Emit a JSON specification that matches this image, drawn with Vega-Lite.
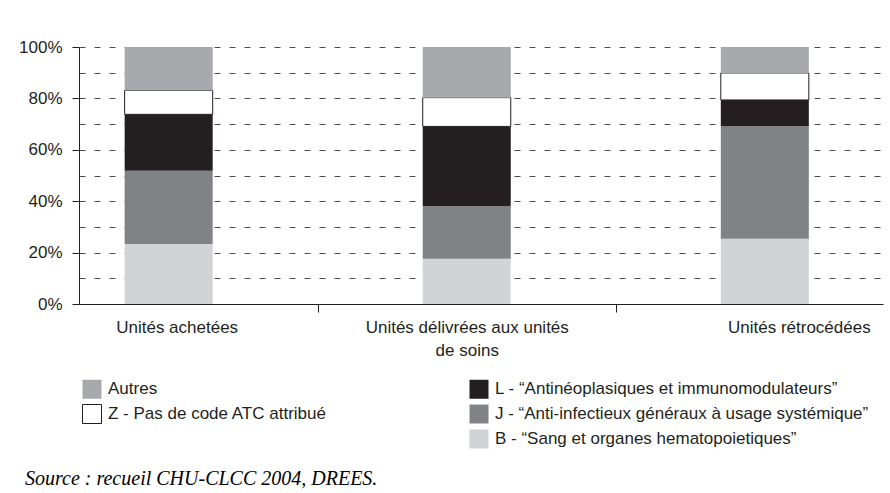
{
  "$schema": "https://vega.github.io/schema/vega-lite/v6.json",
  "autosize": "none",
  "padding": {"left": 79, "top": 47, "right": 7, "bottom": 189},
  "width": 804,
  "height": 257,
  "background": "white",
  "title": {
    "text": "Source : recueil CHU-CLCC 2004, DREES.",
    "orient": "bottom",
    "anchor": "start",
    "frame": "group",
    "font": "Liberation Serif",
    "fontStyle": "italic",
    "fontWeight": "normal",
    "fontSize": 20,
    "color": "#000000",
    "dx": -54,
    "offset": 18
  },
  "data": {
    "values": [
      {"unite": "Unités achetées", "cat": "B - “Sang et organes hematopoietiques”", "pct": 23.3},
      {"unite": "Unités achetées", "cat": "J - “Anti-infectieux généraux à usage systémique”", "pct": 28.5},
      {"unite": "Unités achetées", "cat": "L - “Antinéoplasiques et immunomodulateurs”", "pct": 22.0},
      {"unite": "Unités achetées", "cat": "Z - Pas de code ATC attribué", "pct": 9.3},
      {"unite": "Unités achetées", "cat": "Autres", "pct": 16.9},
      {"unite": "Unités délivrées aux unités de soins", "cat": "B - “Sang et organes hematopoietiques”", "pct": 17.6},
      {"unite": "Unités délivrées aux unités de soins", "cat": "J - “Anti-infectieux généraux à usage systémique”", "pct": 20.5},
      {"unite": "Unités délivrées aux unités de soins", "cat": "L - “Antinéoplasiques et immunomodulateurs”", "pct": 31.0},
      {"unite": "Unités délivrées aux unités de soins", "cat": "Z - Pas de code ATC attribué", "pct": 11.2},
      {"unite": "Unités délivrées aux unités de soins", "cat": "Autres", "pct": 19.7},
      {"unite": "Unités rétrocédées", "cat": "B - “Sang et organes hematopoietiques”", "pct": 25.4},
      {"unite": "Unités rétrocédées", "cat": "J - “Anti-infectieux généraux à usage systémique”", "pct": 43.9},
      {"unite": "Unités rétrocédées", "cat": "L - “Antinéoplasiques et immunomodulateurs”", "pct": 10.1},
      {"unite": "Unités rétrocédées", "cat": "Z - Pas de code ATC attribué", "pct": 10.5},
      {"unite": "Unités rétrocédées", "cat": "Autres", "pct": 10.1}
    ]
  },
  "transform": [
    {"window": [{"op": "row_number", "as": "rang"}], "groupby": ["unite"]}
  ],
  "mark": {"type": "bar", "strokeWidth": 1},
  "encoding": {
    "x": {
      "field": "unite",
      "type": "nominal",
      "sort": null,
      "scale": {"paddingInner": 0.7047, "paddingOuter": 0.201, "align": 0.381},
      "axis": {
        "title": null,
        "labelAngle": 0,
        "labelFont": "Liberation Sans",
        "labelFontSize": 17,
        "labelColor": "#231f20",
        "labelPadding": 7,
        "labelLimit": 0,
        "labelLineHeight": 23,
        "labelExpr": "datum.label == 'Unités délivrées aux unités de soins' ? ['Unités délivrées aux unités', 'de soins'] : datum.label",
        "tickOffset": 149,
        "labelOffset": {
          "condition": [
            {"test": "datum.value === 'Unités rétrocédées'", "value": -115},
            {"test": "datum.value === 'Unités achetées'", "value": -141}
          ],
          "value": -149
        },
        "tickSize": 8,
        "tickWidth": 1,
        "tickColor": "#231f20",
        "domainColor": "#231f20",
        "grid": false
      }
    },
    "y": {
      "field": "pct",
      "type": "quantitative",
      "stack": "zero",
      "scale": {"domain": [0, 100], "nice": false},
      "axis": {
        "title": null,
        "values": [0, 10, 20, 30, 40, 50, 60, 70, 80, 90, 100],
        "labelExpr": "datum.value % 20 === 0 ? datum.value + '%' : ''",
        "labelFont": "Liberation Sans",
        "labelFontSize": 17,
        "labelColor": "#231f20",
        "labelPadding": 10,
        "tickSize": 7,
        "tickColor": "#231f20",
        "tickOpacity": {"condition": {"test": "datum.value % 20 !== 0", "value": 0}, "value": 1},
        "domainColor": "#231f20",
        "grid": true,
        "gridColor": "#4d4d4f",
        "gridDash": [6, 9],
        "gridWidth": 1
      }
    },
    "order": {"field": "rang", "type": "quantitative", "sort": "ascending"},
    "color": {
      "field": "cat",
      "type": "nominal",
      "scale": {
        "domain": ["Autres", "Z - Pas de code ATC attribué", " ", "L - “Antinéoplasiques et immunomodulateurs”", "J - “Anti-infectieux généraux à usage systémique”", "B - “Sang et organes hematopoietiques”"],
        "range": ["#a7a9ac", "#ffffff", "transparent", "#231f20", "#808285", "#d1d3d4"]
      },
      "legend": {
        "title": null,
        "orient": "none",
        "legendX": 3,
        "legendY": 332,
        "columns": 2,
        "columnPadding": 140,
        "rowPadding": 1,
        "symbolType": "square",
        "symbolSize": 361,
        "symbolStrokeWidth": 1,
        "symbolOpacity": 1,
        "labelFont": "Liberation Sans",
        "labelFontSize": 17,
        "labelColor": "#231f20",
        "labelOffset": 6,
        "labelLimit": 0
      }
    },
    "stroke": {
      "field": "cat",
      "type": "nominal",
      "scale": {
        "domain": ["Autres", "Z - Pas de code ATC attribué", " ", "L - “Antinéoplasiques et immunomodulateurs”", "J - “Anti-infectieux généraux à usage systémique”", "B - “Sang et organes hematopoietiques”"],
        "range": ["transparent", "#231f20", "transparent", "transparent", "transparent", "transparent"]
      },
      "legend": {
        "title": null,
        "orient": "none",
        "legendX": 3,
        "legendY": 332,
        "columns": 2,
        "columnPadding": 140,
        "rowPadding": 1,
        "symbolType": "square",
        "symbolSize": 361,
        "symbolStrokeWidth": 1,
        "labelFont": "Liberation Sans",
        "labelFontSize": 17,
        "labelColor": "#231f20",
        "labelOffset": 6,
        "labelLimit": 0
      }
    }
  },
  "config": {
    "view": {"stroke": null},
    "bar": {"fillOpacity": 1}
  }
}
